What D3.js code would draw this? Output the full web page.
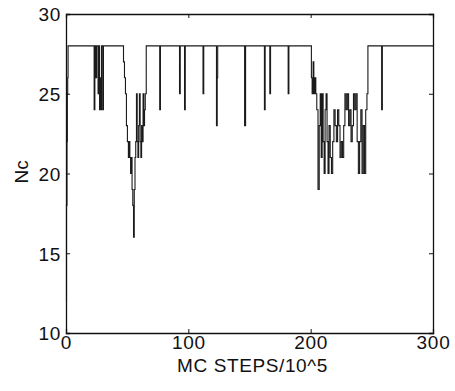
<!DOCTYPE html>
<html>
<head>
<meta charset="utf-8">
<script src="https://cdn.jsdelivr.net/npm/d3@7/dist/d3.min.js"></script>
<style>
  html, body { margin: 0; padding: 0; background: #fff; }
  svg { display: block; }
  text { font-family: "Liberation Sans", Arial, Helvetica, sans-serif; fill: #111; }
</style>
</head>
<body>
<svg id="chart" width="455" height="391"></svg>
<script>
// Monte Carlo trace: number of contacts Nc versus MC steps (in units of 10^5)
const steps = [
  0, 0.4, 0.8, 1.1, 1.4, 1.7,
  23.0, 23.6, 24.4, 25.0, 26.2, 26.8, 27.4, 27.9, 28.4, 29.0, 30.0, 30.6,
  47.0, 47.8, 48.6, 49.4, 50.2, 51.0, 51.6, 52.2, 52.8, 53.4, 54.0, 54.6,
  55.2, 55.8, 56.4, 57.0, 57.6, 58.2, 58.8, 59.4, 60.0, 60.6, 61.2, 61.8,
  62.4, 63.0, 63.6, 64.2, 64.8, 65.6,
  76.6, 77.2, 92.8, 93.4, 96.9, 97.5, 112.0, 112.6, 123.0, 123.6, 124.0,
  146.0, 146.8, 162.2, 162.8, 166.6, 167.2, 181.6, 182.2,
  200.6, 201.2, 202.0, 202.6, 203.4, 204.2, 205.0, 206.0, 207.0, 207.8,
  208.6, 209.4, 210.2, 211.0, 211.8, 212.6, 213.4, 214.2, 215.0, 216.0,
  217.0, 218.0, 219.0, 220.0, 221.0, 222.0, 223.0, 224.0, 225.0, 226.0,
  227.0, 228.0, 229.0, 230.0, 231.0, 232.0, 233.0, 234.0, 235.0, 236.0,
  237.0, 238.0, 239.0, 240.0, 241.0, 242.0, 243.0, 244.0, 245.0, 246.0,
  246.8, 258.0, 258.6, 300
];
const nc = [
  12, 18, 22, 25, 26, 28,
  24, 28, 26, 28, 25, 28, 24, 26, 24, 28, 24, 28,
  27, 26, 25, 23, 22, 21, 22, 21, 20, 21, 19, 18,
  16, 19, 21, 22, 25, 22, 21, 23, 25, 22, 21, 23,
  22, 25, 23, 24, 25, 28,
  24, 28, 25, 28, 24, 28, 25, 28, 23, 26, 28,
  23, 28, 24, 28, 25, 28, 25, 28,
  26, 25, 27, 25, 26, 25, 24, 19, 23, 25,
  21, 25, 22, 20, 24, 25, 22, 20, 23, 21,
  20, 22, 24, 23, 22, 24, 23, 21, 22, 21,
  23, 25, 24, 25, 23, 24, 22, 23, 25, 24,
  25, 22, 20, 22, 24, 20, 23, 20, 24, 25,
  28, 24, 28, 28
];
const xTicks = [0, 100, 200, 300];
const yTicks = [10, 15, 20, 25, 30];
const xLabel = "MC STEPS/10^5";
const yLabel = "Nc";

const svg = d3.select("#chart");
const margin = { left: 66, top: 14, right: 22, bottom: 58 };
const W = 455, H = 391;
const x = d3.scaleLinear().domain([0, 300]).range([margin.left, W - margin.right]);
const y = d3.scaleLinear().domain([10, 30]).range([H - margin.bottom, margin.top]);

const data = steps.map((s, i) => ({ s, v: nc[i] }));

// trace
const line = d3.line().x(d => x(d.s)).y(d => y(d.v)).curve(d3.curveStepAfter);
svg.append("path")
  .datum(data)
  .attr("d", line)
  .attr("fill", "none")
  .attr("stroke", "#1a1a1a")
  .attr("stroke-width", 1.1);

// axes with inward ticks on all four sides
const fs = "19px";
const axBottom = svg.append("g")
  .attr("transform", `translate(0,${y(10)})`)
  .call(d3.axisBottom(x).tickValues(xTicks).tickSize(-4).tickPadding(2).tickFormat(d3.format("d")));
const axLeft = svg.append("g")
  .attr("transform", `translate(${x(0)},0)`)
  .call(d3.axisLeft(y).tickValues(yTicks).tickSize(-4).tickPadding(5).tickFormat(d3.format("d")));
const axTop = svg.append("g")
  .attr("transform", `translate(0,${y(30)})`)
  .call(d3.axisTop(x).tickValues(xTicks).tickSize(-4).tickFormat(""));
const axRight = svg.append("g")
  .attr("transform", `translate(${x(300)},0)`)
  .call(d3.axisRight(y).tickValues(yTicks).tickSize(-4).tickFormat(""));

[axBottom, axLeft, axTop, axRight].forEach(g => {
  g.select(".domain").attr("stroke", "#111").attr("stroke-width", 1.3);
  g.selectAll(".tick line").attr("stroke", "#111");
  g.selectAll("text").style("font-size", fs).attr("fill", "#111")
    .style("letter-spacing", "0.7px")
    .style("font-family", '"Liberation Sans", Arial, sans-serif');
});
axBottom.selectAll("text").attr("dy", "0.71em");
axLeft.selectAll("text").attr("dy", "0.36em");

// axis titles
svg.append("text")
  .attr("x", (x(0) + x(300)) / 2 + 3)
  .attr("y", 372)
  .attr("text-anchor", "middle")
  .style("font-size", fs)
  .style("letter-spacing", "0.6px")
  .text(xLabel);
svg.append("text")
  .attr("transform", `translate(28,${y(20.1)}) rotate(-90)`)
  .attr("text-anchor", "middle")
  .style("font-size", fs)
  .text(yLabel);
</script>
</body>
</html>
